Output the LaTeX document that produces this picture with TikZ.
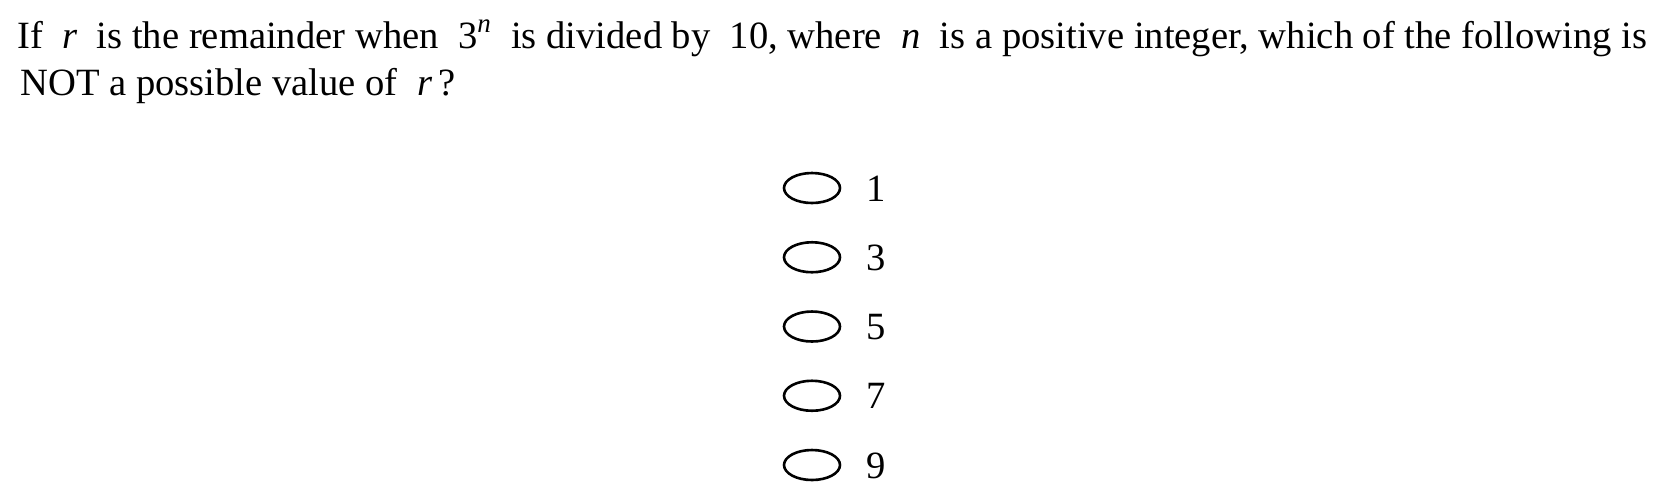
\documentclass[tikz,border=0pt]{standalone}
\usepackage{fontspec}
\setmainfont{Liberation Serif}
\usetikzlibrary{shapes.geometric}
\begin{document}
\begin{tikzpicture}[x=.5pt,y=-.5pt,font=\fontsize{19.3}{23}\selectfont,
  bubble/.style={draw,ellipse,line width=1.3pt,inner sep=0pt,minimum width=28pt,minimum height=15pt}]
\useasboundingbox (0,0) rectangle (1664,500);
\node[anchor=base west,inner sep=0pt] (q1) at (17,48) {If \ \textit{r}\ \ is the remainder when \ 3\textsuperscript{\textit{n}}\ \ is divided by \ 10, where \ \textit{n}\ \ is a positive integer, which of the following is};
\node[anchor=base west,inner sep=0pt] (q2) at (20,95) {NOT a possible value of \ \textit{r}\,?};
\foreach \v [count=\i] in {1,3,5,7,9} {
  \node[bubble] (o\i) at (812,{188+69.25*(\i-1)}) {};
  \node[anchor=base west,inner sep=0pt] (a\i) at (866,{201+69.25*(\i-1)}) {\v};
}
\end{tikzpicture}
\end{document}
